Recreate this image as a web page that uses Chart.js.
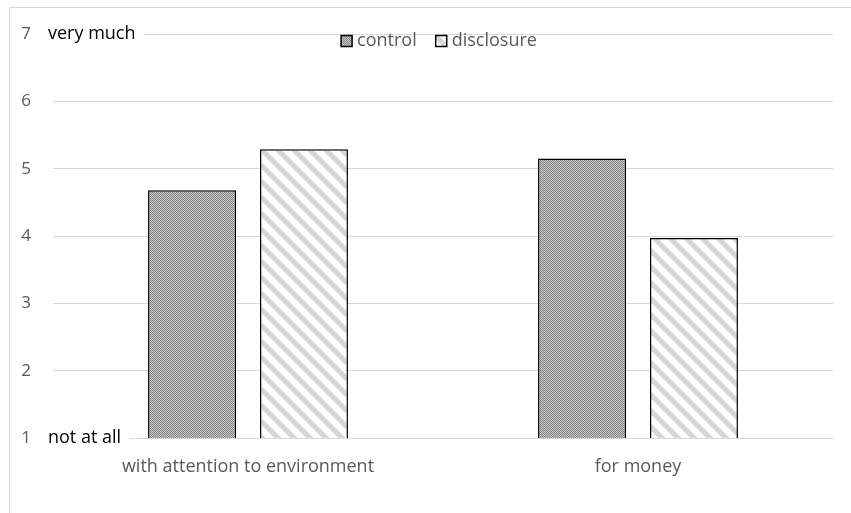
<!DOCTYPE html>
<html>
<head>
    <meta charset="UTF-8">
    <title>title</title>
    <style>
        body { margin: 0; background: #fff; }
        #wrap { width: 851px; height: 513px; }
    </style>
</head>
<body>
<script src="https://cdn.jsdelivr.net/npm/chart.js@4.4.1/dist/chart.umd.min.js"></script>
<div id="wrap"><canvas id="myChart"></canvas></div>

<script type="text/javascript">
    var categories = ["with attention to environment", "for money"];
    var seriesNames = ["control", "disclosure"];
    var controlValues = [4.68, 5.15];
    var disclosureValues = [5.29, 3.97];
    var scaleEnds = { 7: "very much", 1: "not at all" };

    var fontName = "'Open Sans', sans-serif";
    var fontSize = 18;
    var gray = "#595959";

    // fine checker used for the control bars
    var makeChecker = function() {
        var c = document.createElement('canvas');
        c.width = 4; c.height = 4;
        var g = c.getContext('2d');
        g.fillStyle = "#c8c8c8";
        g.fillRect(0, 0, 4, 4);
        g.fillStyle = "#858585";
        g.fillRect(0, 0, 1, 1); g.fillRect(2, 0, 1, 1);
        g.fillRect(1, 1, 1, 1); g.fillRect(3, 1, 1, 1);
        g.fillRect(0, 2, 1, 1); g.fillRect(2, 2, 1, 1);
        g.fillRect(1, 3, 1, 1); g.fillRect(3, 3, 1, 1);
        return g.createPattern(c, 'repeat');
    };

    // wide downward diagonal stripes for the disclosure bars
    var makeStripes = function() {
        var c = document.createElement('canvas');
        c.width = 16; c.height = 16;
        var g = c.getContext('2d');
        g.fillStyle = "#ffffff";
        g.fillRect(0, 0, 16, 16);
        g.strokeStyle = "#d6d6d6";
        g.lineWidth = 5;
        [-16, 0, 16].forEach(function(o) {
            g.beginPath();
            g.moveTo(o - 2, -2);
            g.lineTo(o + 18, 18);
            g.stroke();
        });
        return g.createPattern(c, 'repeat');
    };

    var ctx = document.getElementById('myChart').getContext('2d');

    var frame = {
        id: 'frame',
        beforeDraw: function(chart) {
            var c = chart.ctx;
            c.save();
            c.fillStyle = "#fff";
            c.fillRect(0, 0, chart.width, chart.height);
            c.strokeStyle = "#d9d9d9";
            c.lineWidth = 1;
            c.strokeRect(9.5, 7.5, chart.width + 10, chart.height + 10);
            c.restore();
        }
    };

    // end-of-scale words beside the 7 and 1 ticks
    var endLabels = {
        id: 'endLabels',
        beforeDatasetsDraw: function(chart) {
            var c = chart.ctx;
            var y = chart.scales.y;
            c.save();
            c.font = fontSize + "px " + fontName;
            c.textBaseline = "middle";
            Object.keys(scaleEnds).forEach(function(v) {
                var py = y.getPixelForValue(Number(v));
                var text = scaleEnds[v];
                var w = c.measureText(text).width;
                c.fillStyle = "#fff";
                c.fillRect(44, py - 3, w + 12, 6);
                c.fillStyle = "#000";
                c.fillText(text, 48, py);
            });
            c.restore();
        }
    };

    // legend sitting just under the top gridline, centred on the plot
    var innerLegend = {
        id: 'innerLegend',
        afterDraw: function(chart) {
            var c = chart.ctx;
            var area = chart.chartArea;
            var box = 11, gap = 5, itemGap = 19;
            c.save();
            c.font = fontSize + "px " + fontName;
            c.textBaseline = "middle";
            var sets = chart.data.datasets;
            var widths = sets.map(function(ds) { return box + gap + c.measureText(ds.label).width; });
            var total = widths.reduce(function(a, b) { return a + b; }, 0) + itemGap * (sets.length - 1);
            var x = (area.left + area.right) / 2 - total / 2 - 4;
            var cy = area.top + 7;
            sets.forEach(function(ds, i) {
                c.fillStyle = ds.backgroundColor;
                c.fillRect(x, cy - box / 2, box, box);
                c.strokeStyle = "#000";
                c.lineWidth = 1.5;
                c.strokeRect(x, cy - box / 2, box, box);
                c.fillStyle = gray;
                c.fillText(ds.label, x + box + gap, cy);
                x += widths[i] + itemGap;
            });
            c.restore();
        }
    };

    var myChart = new Chart(ctx, {
        type: 'bar',
        data: {
            labels: categories,
            datasets: [{
                label: seriesNames[0],
                data: controlValues,
                backgroundColor: makeChecker(),
                borderColor: "#000",
                borderWidth: 1.5
            }, {
                label: seriesNames[1],
                data: disclosureValues,
                backgroundColor: makeStripes(),
                borderColor: "#000",
                borderWidth: 1.5
            }]
        },
        options: {
            responsive: true,
            maintainAspectRatio: false,
            animation: false,
            layout: { padding: { top: 34, right: 18, left: 0, bottom: 0 } },
            datasets: {
                bar: { categoryPercentage: 0.574, barPercentage: 0.786 }
            },
            plugins: {
                legend: { display: false },
                tooltip: { enabled: false }
            },
            scales: {
                x: {
                    grid: { display: false, drawTicks: false },
                    border: { display: false },
                    ticks: { color: gray, padding: 18, font: { family: fontName, size: fontSize } },
                    afterFit: function(s) { s.height = 75; }
                },
                y: {
                    min: 1,
                    max: 7,
                    grid: { color: "#d9d9d9", lineWidth: 1, drawTicks: false },
                    border: { display: false },
                    ticks: { stepSize: 1, color: gray, padding: 22, font: { family: fontName, size: 17 } },
                    afterFit: function(s) { s.width = 53; }
                }
            }
        },
        plugins: [frame, endLabels, innerLegend]
    });
</script>
</body>
</html>
